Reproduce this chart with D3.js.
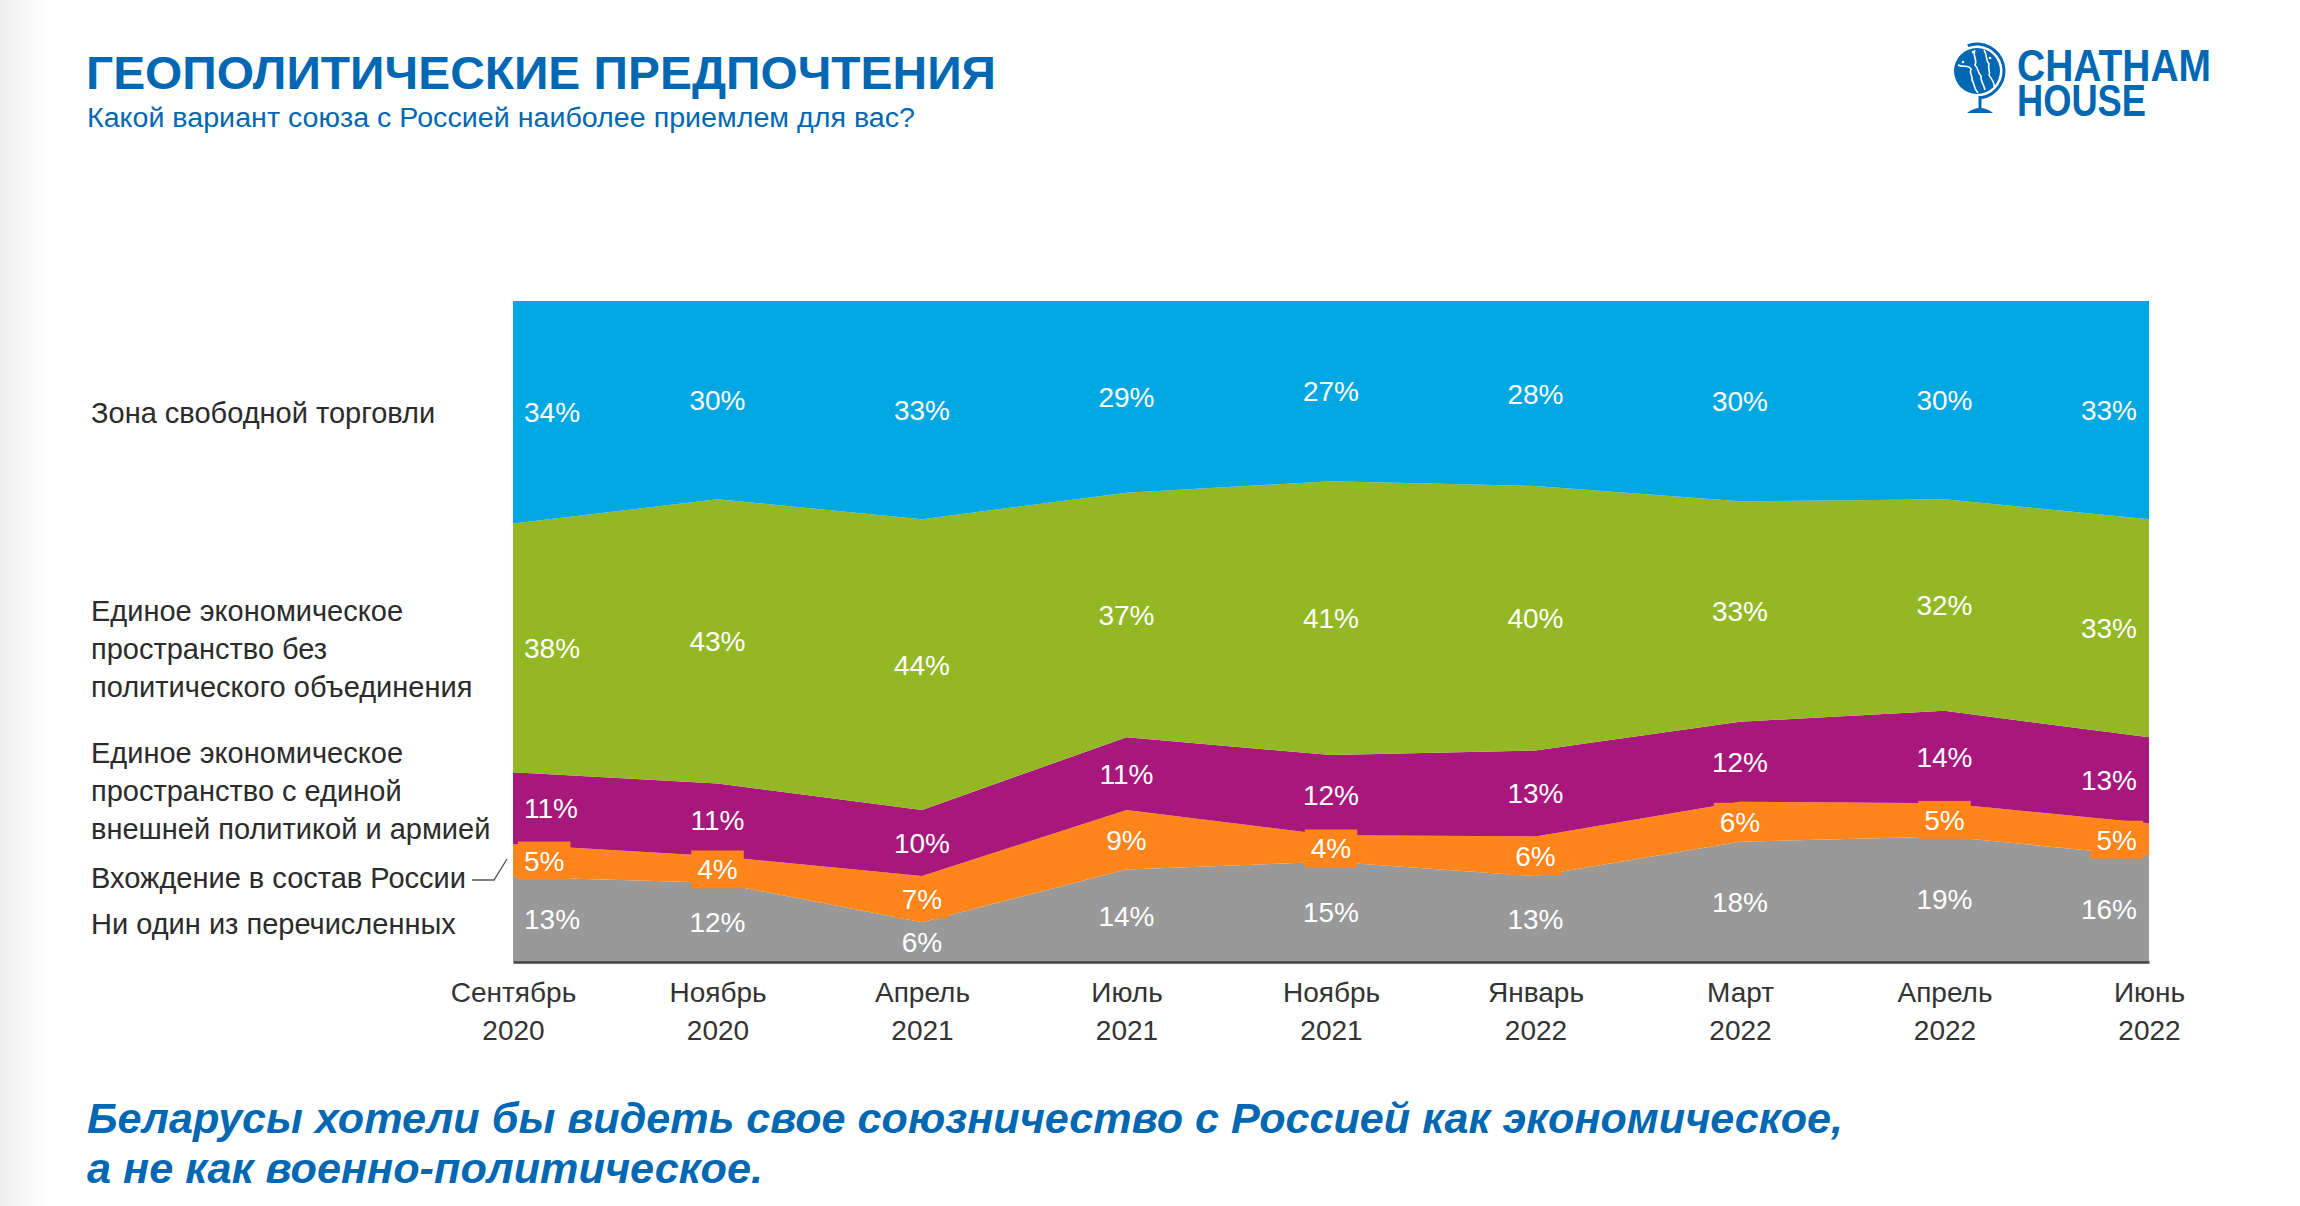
<!DOCTYPE html>
<html>
<head>
<meta charset="utf-8">
<script src="https://cdn.jsdelivr.net/npm/d3@7"></script>
<style>
  html, body { margin: 0; padding: 0; background: #fff; }
  svg { display: block; }
</style>
</head>
<body>
<svg id="chart" width="2300" height="1206"></svg>
<script>
// ---------- DATA ----------
const tickMonths = ["Сентябрь", "Ноябрь", "Апрель", "Июль", "Ноябрь", "Январь", "Март", "Апрель", "Июнь"];
const tickYears  = ["2020", "2020", "2021", "2021", "2021", "2022", "2022", "2022", "2022"];
const periods = tickMonths.map((m, i) => m + " " + tickYears[i]);

const noneOfThese   = [13, 12, 6, 14, 15, 13, 18, 19, 16];
const joinRussia    = [5, 4, 7, 9, 4, 6, 6, 5, 5];
const eesPolArmy    = [11, 11, 10, 11, 12, 13, 12, 14, 13];
const eesNoPolitics = [38, 43, 44, 37, 41, 40, 33, 32, 33];
const freeTrade     = [34, 30, 33, 29, 27, 28, 30, 30, 33];

const seriesKeys = ["none", "join", "full", "econ", "fta"];
const seriesNames = {
  none: ["Ни один из перечисленных"],
  join: ["Вхождение в состав России"],
  full: ["Единое экономическое", "пространство с единой", "внешней политикой и армией"],
  econ: ["Единое экономическое", "пространство без", "политического объединения"],
  fta:  ["Зона свободной торговли"]
};
const seriesColors = { none: "#999999", join: "#ff8419", full: "#a8177b", econ: "#93b824", fta: "#00a8e3" };

const titleText = "ГЕОПОЛИТИЧЕСКИЕ ПРЕДПОЧТЕНИЯ";
const subtitleText = "Какой вариант союза с Россией наиболее приемлем для вас?";
const footLines = ["Беларусы хотели бы видеть свое союзничество с Россией как экономическое,",
                   "а не как военно-политическое."];

// ---------- BUILD ----------
const table = periods.map((p, i) => ({
  period: p,
  none: noneOfThese[i], join: joinRussia[i], full: eesPolArmy[i], econ: eesNoPolitics[i], fta: freeTrade[i]
}));

const svg = d3.select("#chart");
const BLUE = "#0067b2";
const FONT = "'Liberation Sans', Arial, Helvetica, sans-serif";

// left edge shade
const defs = svg.append("defs");
const lg = defs.append("linearGradient").attr("id", "edge").attr("x1", 0).attr("x2", 1).attr("y1", 0).attr("y2", 0);
lg.append("stop").attr("offset", 0).attr("stop-color", "#efefef");
lg.append("stop").attr("offset", 1).attr("stop-color", "#ffffff");
svg.append("rect").attr("x", 0).attr("y", 0).attr("width", 48).attr("height", 1206).attr("fill", "url(#edge)");

// Title & subtitle
svg.append("text").attr("x", 86).attr("y", 89).text(titleText)
  .attr("font-family", FONT).attr("font-weight", "bold").attr("font-size", 46)
  .attr("fill", BLUE).attr("textLength", 910).attr("lengthAdjust", "spacingAndGlyphs");
svg.append("text").attr("x", 87).attr("y", 127).text(subtitleText)
  .attr("font-family", FONT).attr("font-size", 27)
  .attr("fill", BLUE).attr("textLength", 828).attr("lengthAdjust", "spacingAndGlyphs");

// Logo
const logo = svg.append("g");
logo.append("circle").attr("cx", 1977).attr("cy", 71).attr("r", 23).attr("fill", BLUE);
logo.append("path").attr("d", d3.arc()({innerRadius: 25.5, outerRadius: 28.5, startAngle: -0.35, endAngle: Math.PI * 0.95}))
  .attr("transform", "translate(1977,71)").attr("fill", BLUE);
// face profiles
logo.append("path")
  .attr("d", "M1958,65 C1963,68 1968,64 1971,69 C1969,73 1973,76 1972,80 C1975,84 1973,88 1978,93")
  .attr("fill", "none").attr("stroke", "#fff").attr("stroke-width", 1.6);
logo.append("path")
  .attr("d", "M1975,50 C1972,56 1978,60 1975,65 C1979,69 1977,72 1981,76 C1980,81 1984,84 1985,90")
  .attr("fill", "none").attr("stroke", "#fff").attr("stroke-width", 1.6);
logo.append("path")
  .attr("d", "M1984,50 C1988,56 1985,60 1989,64 C1987,68 1991,71 1989,75 C1991,79 1995,82 1994,87")
  .attr("fill", "none").attr("stroke", "#fff").attr("stroke-width", 1.6);
logo.append("circle").attr("cx", 1963).attr("cy", 62).attr("r", 1.3).attr("fill", "#fff");
logo.append("circle").attr("cx", 1990).attr("cy", 58).attr("r", 1.3).attr("fill", "#fff");
logo.append("circle").attr("cx", 1973).attr("cy", 52).attr("r", 1.3).attr("fill", "#fff");
logo.append("rect").attr("x", 1978.5).attr("y", 96).attr("width", 3).attr("height", 12).attr("fill", BLUE);
logo.append("path").attr("d", "M1967,113 Q1980,103 1993,113 Z").attr("fill", BLUE);
logo.append("text").attr("x", 2017).attr("y", 81).text("CHATHAM")
  .attr("font-family", FONT).attr("font-weight", "bold").attr("font-size", 44)
  .attr("fill", BLUE).attr("textLength", 194).attr("lengthAdjust", "spacingAndGlyphs");
logo.append("text").attr("x", 2017).attr("y", 116).text("HOUSE")
  .attr("font-family", FONT).attr("font-weight", "bold").attr("font-size", 44)
  .attr("fill", BLUE).attr("textLength", 129).attr("lengthAdjust", "spacingAndGlyphs");

// Scales
const x = d3.scalePoint().domain(periods).range([513, 2149]);
const y = d3.scaleLinear().domain([0, 1]).range([962, 301]);

const stack = d3.stack().keys(seriesKeys).offset(d3.stackOffsetExpand);
const layers = stack(table);

const area = d3.area()
  .x(d => x(d.data.period))
  .y0(d => y(d[0]))
  .y1(d => y(d[1]));

svg.append("g").selectAll("path").data(layers).join("path")
  .attr("d", area)
  .attr("fill", d => seriesColors[d.key]);

// Value labels
const lbl = svg.append("g").attr("font-family", FONT).attr("font-size", 28).attr("fill", "#fff");
const lastIdx = periods.length - 1;
layers.forEach(layer => {
  layer.forEach((d, i) => {
    const cx = x(d.data.period);
    const cy = y((d[0] + d[1]) / 2);
    let tx = cx, anchor = "middle";
    if (i === 0) { tx = cx + 11; anchor = "start"; }
    if (i === lastIdx) { tx = cx - 12; anchor = "end"; }
    const txt = d.data[layer.key] + "%";
    const g = lbl.append("g");
    const t = g.append("text").attr("x", tx).attr("y", cy + 10).attr("text-anchor", anchor).text(txt);
    if (layer.key === "join") {
      const bb = t.node().getBBox();
      g.insert("rect", "text")
        .attr("x", bb.x - 6).attr("y", cy - 19)
        .attr("width", bb.width + 12).attr("height", 38)
        .attr("fill", seriesColors.join);
    }
  });
});

// Axis
const axis = d3.axisBottom(x).tickSize(0).tickPadding(0);
const ax = svg.append("g").attr("transform", "translate(0,962)").call(axis);
ax.select(".domain").attr("stroke", "#444").attr("stroke-width", 2.5);
ax.selectAll(".tick text").each(function(p, i) {
  const t = d3.select(this);
  t.text(null).attr("y", 0).attr("dy", null)
    .attr("font-family", FONT).attr("font-size", 28).attr("fill", "#333");
  t.append("tspan").attr("x", 0).attr("y", 40).text(tickMonths[i]);
  t.append("tspan").attr("x", 0).attr("y", 78).text(tickYears[i]);
});
ax.attr("font-family", null).attr("font-size", null);

// Series labels (left)
const leftLayout = { fta: [414], econ: [612, 650, 688], full: [754, 792, 830], join: [879], none: [925] };
const left = svg.append("g").attr("font-family", FONT).attr("font-size", 29).attr("fill", "#2b2b2b");
seriesKeys.forEach(k => {
  seriesNames[k].forEach((line, j) => {
    left.append("text").attr("x", 91).attr("y", leftLayout[k][j] + 9).text(line);
  });
});
// leader line for "Вхождение в состав России"
svg.append("path").attr("d", d3.line()([[472, 880], [494, 880], [507, 859]]))
  .attr("fill", "none").attr("stroke", "#555").attr("stroke-width", 1.4);

// Footer
const foot = svg.append("g").attr("font-family", FONT).attr("font-weight", "bold")
  .attr("font-style", "italic").attr("font-size", 42).attr("fill", BLUE);
foot.append("text").attr("x", 87).attr("y", 1133).text(footLines[0])
  .attr("textLength", 1756).attr("lengthAdjust", "spacingAndGlyphs");
foot.append("text").attr("x", 87).attr("y", 1183).text(footLines[1])
  .attr("textLength", 676).attr("lengthAdjust", "spacingAndGlyphs");
</script>
</body>
</html>
